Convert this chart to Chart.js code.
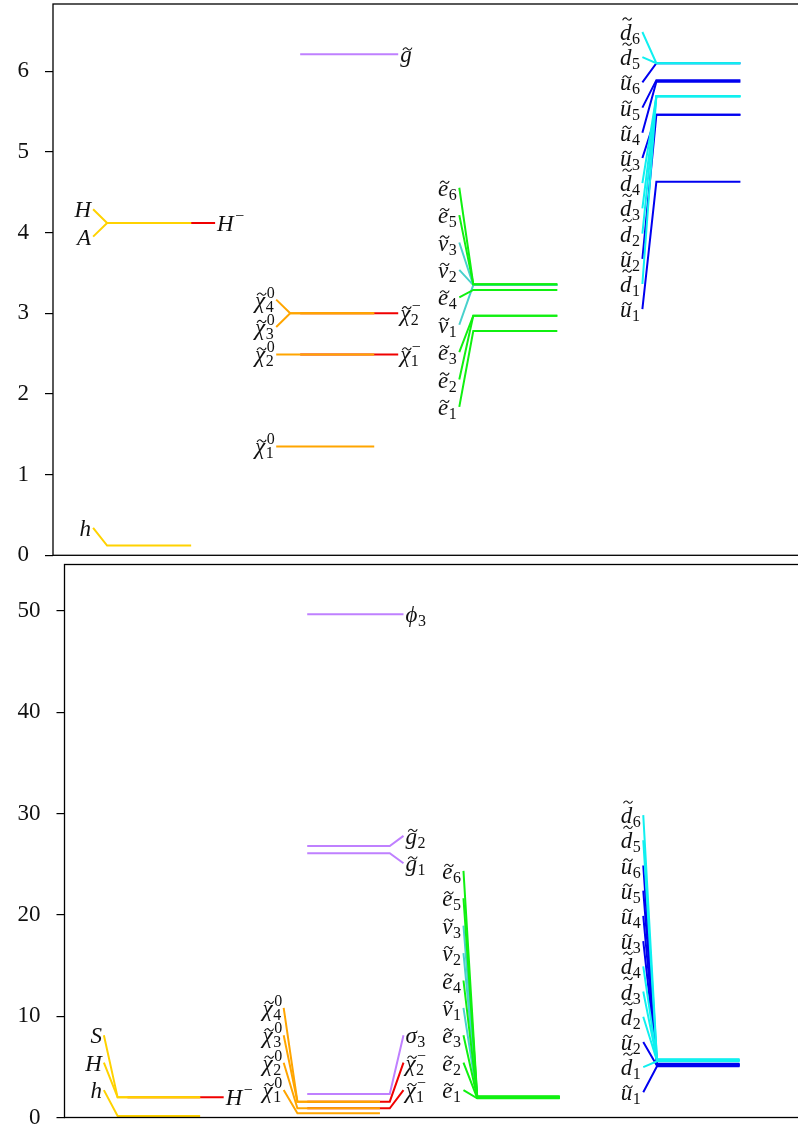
<!DOCTYPE html>
<html lang="en">
<head>
<meta charset="UTF-8">
<title>Mass spectra</title>
<script src="https://cdn.jsdelivr.net/npm/chart.js"></script>
<style>
  body { margin: 0; width: 798px; height: 1126px; overflow: hidden; position: relative; background: #fff; }
  canvas { position: absolute; left: 0; }
  #upper { top: 0; }
  #lower { top: 540px; }
</style>
</head>
<body>
<canvas id="upper" width="810" height="600"></canvas>
<canvas id="lower" width="810" height="586"></canvas>
<script>
// Names: "~" puts a tilde on the symbol, "_" and "^" give sub- and superscripts.
// Every list runs from the lowest label up to the highest one.

// ---- upper spectrum ----
const upHiggs = ['h', 'A', 'H'];
const upHiggsMass = [0.12, 4.12, 4.12];
const upHiggsCharged = ['H^-'];
const upHiggsChargedMass = [4.12];
const upNeutralino = ['~chi_1^0', '~chi_2^0', '~chi_3^0', '~chi_4^0'];
const upNeutralinoMass = [1.35, 2.49, 3.00, 3.00];
const upCharged = ['~chi_1^-', '~chi_2^-', '~g'];
const upChargedMass = [2.49, 3.00, 6.21];
const upSlepton = ['~e_1', '~e_2', '~e_3', '~nu_1', '~e_4', '~nu_2', '~nu_3', '~e_5', '~e_6'];
const upSleptonMass = [2.78, 2.97, 2.97, 3.35, 3.29, 3.35, 3.35, 3.36, 3.36];
const upSquark = ['~u_1', '~d_1', '~u_2', '~d_2', '~d_3', '~d_4', '~u_3', '~u_4', '~u_5', '~u_6', '~d_5', '~d_6'];
const upSquarkMass = [4.63, 5.69, 5.46, 5.69, 5.69, 5.69, 5.46, 5.87, 5.89, 6.10, 6.10, 6.10];
const upTicks = [0, 1, 2, 3, 4, 5, 6];

// ---- lower spectrum ----
const loHiggs = ['h', 'H', 'S'];
const loHiggsMass = [0.15, 1.99, 1.99];
const loHiggsCharged = ['H^-'];
const loHiggsChargedMass = [1.99];
const loNeutralino = ['~chi_1^0', '~chi_2^0', '~chi_3^0', '~chi_4^0'];
const loNeutralinoMass = [0.41, 0.91, 1.56, 1.56];
const loCharged = ['~chi_1^-', '~chi_2^-', 'sigma_3', '~g_1', '~g_2', 'phi_3'];
const loChargedMass = [0.91, 1.56, 2.32, 26.1, 26.8, 49.7];
const loSlepton = ['~e_1', '~e_2', '~e_3', '~nu_1', '~e_4', '~nu_2', '~nu_3', '~e_5', '~e_6'];
const loSleptonMass = [1.90, 1.93, 1.97, 2.00, 2.02, 2.00, 2.00, 2.06, 2.10];
const loSquark = ['~u_1', '~d_1', '~u_2', '~d_2', '~d_3', '~d_4', '~u_3', '~u_4', '~u_5', '~u_6', '~d_5', '~d_6'];
const loSquarkMass = [5.05, 5.55, 5.10, 5.60, 5.62, 5.65, 5.15, 5.20, 5.25, 5.30, 5.70, 5.75];
const loTicks = [0, 10, 20, 30, 40, 50];

// colour and drawing layer for each kind of particle
const kindStyle = {
  h: { color: '#FFD200', layer: 2 }, H: { color: '#FFD200', layer: 2 },
  A: { color: '#FFD200', layer: 2 }, S: { color: '#FFD200', layer: 2 },
  'H-': { color: '#F00000', layer: 0 }, 'chi-': { color: '#F00000', layer: 0 },
  chi: { color: '#FFA500', layer: 2 },
  g: { color: '#BF80FF', layer: 0 }, phi: { color: '#BF80FF', layer: 0 }, sigma: { color: '#BF80FF', layer: 0 },
  e: { color: '#10F010', layer: 2 }, nu: { color: '#48D1CC', layer: 1 },
  u: { color: '#0000F0', layer: 1 }, d: { color: '#10F0F0', layer: 2 }
};
const greek = { chi: 'χ', nu: 'ν', sigma: 'σ', phi: 'ϕ' };

// x layout of the columns (x axis runs 0..9)
const COL0 = 0.65, COL_STEP = 2.2, LEVEL = 1.01, LEAD = 0.168, SHIFT = 0.12;
const TOP_ROOM = 28;   // px kept free above the highest label
const BASE_FONT = 'italic 23px "Liberation Serif", serif';
const SMALL_FONT = '16px "Liberation Serif", serif';

function parseName(name) {
  const m = name.match(/^(~?)([A-Za-z]+)(?:_([^\^]+))?(?:\^(.+))?$/);
  const token = m[2];
  return {
    tilde: m[1] === '~',
    token,
    base: greek[token] || token,
    sub: m[3] || '',
    sup: m[4] ? m[4].replace('-', '\u2212') : '',
    key: token + (m[4] === '-' ? '-' : '')
  };
}

// spread labels so they keep a minimum gap, clusters centred on their mean mass
function placeLabels(masses, gap, lo, hi) {
  let groups = masses.map(m => ({ n: 1, sum: m }));
  let merged = true;
  while (merged) {
    merged = false;
    for (let i = 0; i + 1 < groups.length; i++) {
      const a = groups[i], b = groups[i + 1];
      const aTop = a.sum / a.n + (a.n - 1) / 2 * gap;
      const bBot = b.sum / b.n - (b.n - 1) / 2 * gap;
      if (bBot - aTop < gap - 1e-6) {
        groups.splice(i, 2, { n: a.n + b.n, sum: a.sum + b.sum });
        merged = true;
        break;
      }
    }
  }
  const pos = [];
  groups.forEach(g => {
    const c = g.sum / g.n;
    for (let k = 0; k < g.n; k++) pos.push(c + (k - (g.n - 1) / 2) * gap);
  });
  for (let i = 0; i < pos.length; i++) pos[i] = Math.max(pos[i], i ? pos[i - 1] + gap : lo);
  for (let i = pos.length - 1; i >= 0; i--) pos[i] = Math.min(pos[i], i < pos.length - 1 ? pos[i + 1] - gap : hi);
  return pos;
}

function buildSpectrum(cols, pxPerUnit, yMax) {
  const built = [], labels = [];
  cols.forEach(col => {
    const x0 = COL0 + col.slot * COL_STEP;
    const gap = col.gap / pxPerUnit;
    // the charged Higgs label stays on its own level
    const lo = col.free ? -Infinity : gap;
    const hi = col.free ? Infinity : yMax - TOP_ROOM / pxPerUnit;
    const ys = placeLabels(col.mass, gap, lo, hi);
    col.names.forEach((name, i) => {
      const m = col.mass[i];
      const st = kindStyle[parseName(name).key];
      let pts, anchor;
      if (col.right) {
        const a = x0 + SHIFT, b = a + LEVEL;
        pts = [{ x: a, y: m }, { x: b, y: m }, { x: b + LEAD, y: ys[i] }];
        anchor = { x: b + LEAD, y: ys[i], right: true };
      } else {
        pts = [{ x: x0 - LEAD, y: ys[i] }, { x: x0, y: m }, { x: x0 + LEVEL, y: m }];
        anchor = { x: x0 - LEAD, y: ys[i], right: false };
      }
      built.push({ layer: st.layer, ds: { data: pts, borderColor: st.color, showLine: true } });
      labels.push(Object.assign({ name }, anchor));
    });
  });
  // stable sort by layer, later datasets are painted on top
  const sorted = built.map((b, i) => [b, i]).sort((p, q) => p[0].layer - q[0].layer || p[1] - q[1]);
  const datasets = sorted.map(([b], i) => Object.assign(b.ds, { order: -i }));
  return { datasets, labels };
}

function drawTilde(ctx, cx, cy) {
  ctx.beginPath();
  ctx.moveTo(cx - 4.5, cy + 1.2);
  ctx.bezierCurveTo(cx - 3, cy - 2.2, cx - 1, cy - 1.2, cx, cy);
  ctx.bezierCurveTo(cx + 1, cy + 1.2, cx + 3, cy + 2.2, cx + 4.5, cy - 1.2);
  ctx.lineWidth = 1.1;
  ctx.strokeStyle = '#111';
  ctx.stroke();
}

function drawName(ctx, name, px, py, right) {
  const p = parseName(name);
  ctx.font = BASE_FONT;
  const bw = ctx.measureText(p.base).width;
  ctx.font = SMALL_FONT;
  const sw = Math.max(p.sub ? ctx.measureText(p.sub).width : 0, p.sup ? ctx.measureText(p.sup).width : 0);
  const total = bw + (sw ? sw + 1 : 0);
  const left = right ? px + 2 : px - 2 - total;
  const base = py + 8;
  ctx.fillStyle = '#111';
  ctx.textAlign = 'left';
  ctx.textBaseline = 'alphabetic';
  ctx.font = BASE_FONT;
  ctx.fillText(p.base, left, base);
  ctx.font = SMALL_FONT;
  if (p.sub) ctx.fillText(p.sub, left + bw + 0.5, base + 4);
  if (p.sup) ctx.fillText(p.sup, left + bw + 1.5, base - 10);
  if (p.tilde) drawTilde(ctx, left + bw / 2 + 1.5, base - (p.token === 'd' ? 21 : 13.5));
}

const framePlugin = {
  id: 'frame',
  afterDraw(chart) {
    const { ctx, chartArea: a } = chart;
    ctx.save();
    ctx.lineWidth = 1.3;
    ctx.strokeStyle = '#000';
    ctx.strokeRect(a.left, a.top, a.right - a.left, a.bottom - a.top);
    ctx.restore();
  }
};

function namesPlugin(labels) {
  return {
    id: 'names',
    afterDatasetsDraw(chart) {
      const { ctx, scales } = chart;
      ctx.save();
      labels.forEach(l => drawName(ctx, l.name, scales.x.getPixelForValue(l.x), scales.y.getPixelForValue(l.y), l.right));
      ctx.restore();
    }
  };
}

function makeChart(id, spec) {
  return new Chart(document.getElementById(id), {
    type: 'scatter',
    data: { datasets: spec.datasets },
    options: {
      responsive: false,
      animation: false,
      events: [],
      layout: { padding: spec.padding },
      plugins: { legend: { display: false }, tooltip: { enabled: false } },
      elements: {
        point: { radius: 0, hoverRadius: 0 },
        line: { borderWidth: 2, tension: 0, fill: false, borderCapStyle: 'butt', borderJoinStyle: 'miter' }
      },
      scales: {
        x: { type: 'linear', min: 0, max: 9, display: false },
        y: {
          type: 'linear', min: 0, max: spec.yMax,
          afterFit(s) { s.width = spec.axisWidth; s.paddingTop = 0; s.paddingBottom = 0; },
          afterBuildTicks(s) { s.ticks = spec.ticks.map(v => ({ value: v })); },
          ticks: { padding: 16, color: '#111', font: { family: '"Liberation Serif", serif', size: 23 } },
          grid: { drawOnChartArea: false, drawTicks: true, tickLength: 8, color: '#000', lineWidth: 1.2 },
          border: { display: false }
        }
      }
    },
    plugins: [framePlugin, namesPlugin(spec.labels)]
  });
}

// upper panel: plot area 53..802 x 4..555.3 px
const upMax = 6.834;
const upScale = (555.3 - 4) / upMax;
const up = buildSpectrum([
  { slot: 0, right: true, free: true, gap: 27.4, names: upHiggsCharged, mass: upHiggsChargedMass },
  { slot: 1, right: true, gap: 27.4, names: upCharged, mass: upChargedMass },
  { slot: 0, gap: 27.4, names: upHiggs, mass: upHiggsMass },
  { slot: 1, gap: 27.4, names: upNeutralino, mass: upNeutralinoMass },
  { slot: 2, gap: 27.4, names: upSlepton, mass: upSleptonMass },
  { slot: 3, gap: 25.2, names: upSquark, mass: upSquarkMass }
], upScale, upMax);
makeChart('upper', {
  datasets: up.datasets, labels: up.labels, yMax: upMax, ticks: upTicks, axisWidth: 53,
  padding: { left: 0, top: 4, right: 8, bottom: 600 - 555.3 }
});

// lower panel: plot area 64.5..800 x 564.5..1117.5 px (canvas starts at 540)
const loMax = 54.6;
const loScale = (1117.5 - 564.5) / loMax;
const lo = buildSpectrum([
  { slot: 0, right: true, free: true, gap: 27.4, names: loHiggsCharged, mass: loHiggsChargedMass },
  { slot: 1, right: true, gap: 27.4, names: loCharged, mass: loChargedMass },
  { slot: 0, gap: 27.4, names: loHiggs, mass: loHiggsMass },
  { slot: 1, gap: 27.4, names: loNeutralino, mass: loNeutralinoMass },
  { slot: 2, gap: 27.4, names: loSlepton, mass: loSleptonMass },
  { slot: 3, gap: 25.2, names: loSquark, mass: loSquarkMass }
], loScale, loMax);
makeChart('lower', {
  datasets: lo.datasets, labels: lo.labels, yMax: loMax, ticks: loTicks, axisWidth: 64.5,
  padding: { left: 0, top: 24.5, right: 10, bottom: 586 - 577.5 }
});
</script>
</body>
</html>
